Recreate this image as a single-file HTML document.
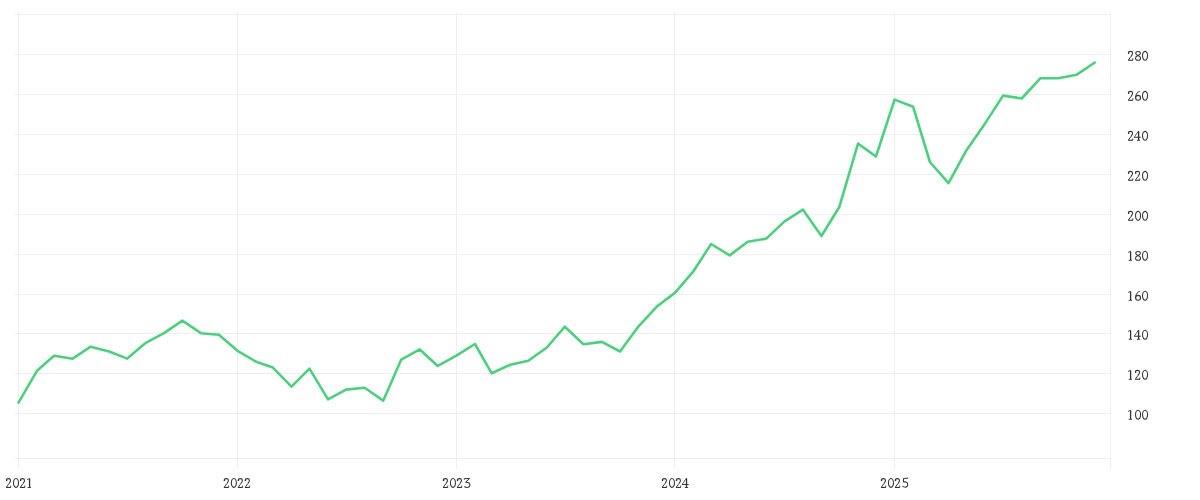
<!DOCTYPE html>
<html><head><meta charset="utf-8"><style>
html,body{margin:0;padding:0;background:#fff;width:1200px;height:500px;overflow:hidden}
svg{display:block;position:absolute;left:0;top:0}
.t{will-change:transform}
</style></head><body>
<svg width="1200" height="500" viewBox="0 0 1200 500">
<rect width="1200" height="500" fill="#fff"/>
<g stroke="#efefef" stroke-width="1" shape-rendering="crispEdges"><line x1="15" y1="14.5" x2="1110" y2="14.5"/><line x1="15" y1="54.5" x2="1110" y2="54.5"/><line x1="15" y1="94.5" x2="1110" y2="94.5"/><line x1="15" y1="134.5" x2="1110" y2="134.5"/><line x1="15" y1="174.5" x2="1110" y2="174.5"/><line x1="15" y1="214.5" x2="1110" y2="214.5"/><line x1="15" y1="254.5" x2="1110" y2="254.5"/><line x1="15" y1="294.5" x2="1110" y2="294.5"/><line x1="15" y1="333.5" x2="1110" y2="333.5"/><line x1="15" y1="373.5" x2="1110" y2="373.5"/><line x1="15" y1="413.5" x2="1110" y2="413.5"/><line x1="15" y1="458.5" x2="1110" y2="458.5"/><line x1="18.5" y1="12" x2="18.5" y2="469"/><line x1="237.5" y1="12" x2="237.5" y2="469"/><line x1="456.5" y1="12" x2="456.5" y2="469"/><line x1="674.5" y1="12" x2="674.5" y2="469"/><line x1="894.5" y1="12" x2="894.5" y2="469"/><line x1="1110.5" y1="12" x2="1110.5" y2="469"/></g>
<path d="M18.50,402.70 L37.28,370.40 L54.07,355.70 L72.66,358.70 L90.64,346.70 L109.22,351.50 L127.21,358.60 L145.79,342.80 L164.38,332.90 L182.36,320.70 L200.95,333.20 L218.93,334.80 L237.52,350.80 L256.10,361.70 L272.89,367.60 L291.47,386.60 L309.46,368.70 L328.04,399.40 L346.03,389.60 L364.61,387.70 L383.20,400.65 L401.18,359.70 L419.77,349.45 L437.75,365.95 L456.34,355.70 L474.92,344.00 L491.71,373.30 L510.29,364.80 L528.28,360.80 L546.86,347.50 L564.84,326.70 L583.43,344.30 L602.01,341.90 L620.00,351.50 L638.58,326.30 L656.57,306.80 L675.15,292.60 L693.74,270.80 L711.12,244.00 L729.71,255.40 L747.69,241.80 L766.28,238.60 L784.26,221.60 L802.85,209.60 L821.43,236.00 L839.42,206.70 L858.00,143.60 L875.99,156.50 L894.57,99.60 L913.15,106.80 L929.94,162.00 L948.52,183.10 L966.51,150.20 L985.09,123.40 L1003.08,95.60 L1021.66,98.50 L1040.25,78.30 L1058.23,78.30 L1076.82,74.70 L1094.80,62.50" fill="none" stroke="#4cd07d" stroke-width="2.6" stroke-linejoin="round" stroke-linecap="round"/>
</svg>
<svg class="t" width="1200" height="500" viewBox="0 0 1200 500"><g fill="none" stroke="#333"><path transform="translate(4.46 488.00)" d="M1.95,-7.6 C1.95,-8.9 2.9,-9.4 4.05,-9.4 C5.35,-9.4 6.05,-8.6 6.05,-7.6 C6.05,-6.5 5.35,-5.5 4.6,-4.5" stroke-width="1.1"/><path transform="translate(4.46 488.00)" d="M4.6,-4.5 L1.95,-0.8" stroke-width="0.95"/><path transform="translate(4.46 488.00)" d="M1.6,-0.55 L6.4,-0.55" stroke-width="1.1"/><path transform="translate(4.46 488.00)" d="M6.3,-0.6 L6.3,-2.4" stroke-width="0.9"/><path transform="translate(4.46 488.00)" d="M2.15,-7.45 m-0.75,0 a0.75,0.75 0 1,0 1.5,0 a0.75,0.75 0 1,0 -1.5,0 Z" fill="#333" stroke="none"/><path transform="translate(11.46 488.00)" d="M4.55,-9.45 C6.0,-9.45 7.05,-7.6 7.05,-5.05 C7.05,-2.5 6.0,-0.65 4.55,-0.65 C3.1,-0.65 2.05,-2.5 2.05,-5.05 C2.05,-7.6 3.1,-9.45 4.55,-9.45 Z" stroke-width="1.05"/><path transform="translate(18.46 488.00)" d="M1.95,-7.6 C1.95,-8.9 2.9,-9.4 4.05,-9.4 C5.35,-9.4 6.05,-8.6 6.05,-7.6 C6.05,-6.5 5.35,-5.5 4.6,-4.5" stroke-width="1.1"/><path transform="translate(18.46 488.00)" d="M4.6,-4.5 L1.95,-0.8" stroke-width="0.95"/><path transform="translate(18.46 488.00)" d="M1.6,-0.55 L6.4,-0.55" stroke-width="1.1"/><path transform="translate(18.46 488.00)" d="M6.3,-0.6 L6.3,-2.4" stroke-width="0.9"/><path transform="translate(18.46 488.00)" d="M2.15,-7.45 m-0.75,0 a0.75,0.75 0 1,0 1.5,0 a0.75,0.75 0 1,0 -1.5,0 Z" fill="#333" stroke="none"/><path transform="translate(25.46 488.00)" d="M4.1,-9.45 L4.1,-0.6" stroke-width="1.3"/><path transform="translate(25.46 488.00)" d="M1.6,-8.4 L4.15,-9.5" stroke-width="0.9"/><path transform="translate(25.46 488.00)" d="M2.2,-0.5 L5.6,-0.5" stroke-width="0.9"/><path transform="translate(222.30 488.00)" d="M1.95,-7.6 C1.95,-8.9 2.9,-9.4 4.05,-9.4 C5.35,-9.4 6.05,-8.6 6.05,-7.6 C6.05,-6.5 5.35,-5.5 4.6,-4.5" stroke-width="1.1"/><path transform="translate(222.30 488.00)" d="M4.6,-4.5 L1.95,-0.8" stroke-width="0.95"/><path transform="translate(222.30 488.00)" d="M1.6,-0.55 L6.4,-0.55" stroke-width="1.1"/><path transform="translate(222.30 488.00)" d="M6.3,-0.6 L6.3,-2.4" stroke-width="0.9"/><path transform="translate(222.30 488.00)" d="M2.15,-7.45 m-0.75,0 a0.75,0.75 0 1,0 1.5,0 a0.75,0.75 0 1,0 -1.5,0 Z" fill="#333" stroke="none"/><path transform="translate(229.30 488.00)" d="M4.55,-9.45 C6.0,-9.45 7.05,-7.6 7.05,-5.05 C7.05,-2.5 6.0,-0.65 4.55,-0.65 C3.1,-0.65 2.05,-2.5 2.05,-5.05 C2.05,-7.6 3.1,-9.45 4.55,-9.45 Z" stroke-width="1.05"/><path transform="translate(236.30 488.00)" d="M1.95,-7.6 C1.95,-8.9 2.9,-9.4 4.05,-9.4 C5.35,-9.4 6.05,-8.6 6.05,-7.6 C6.05,-6.5 5.35,-5.5 4.6,-4.5" stroke-width="1.1"/><path transform="translate(236.30 488.00)" d="M4.6,-4.5 L1.95,-0.8" stroke-width="0.95"/><path transform="translate(236.30 488.00)" d="M1.6,-0.55 L6.4,-0.55" stroke-width="1.1"/><path transform="translate(236.30 488.00)" d="M6.3,-0.6 L6.3,-2.4" stroke-width="0.9"/><path transform="translate(236.30 488.00)" d="M2.15,-7.45 m-0.75,0 a0.75,0.75 0 1,0 1.5,0 a0.75,0.75 0 1,0 -1.5,0 Z" fill="#333" stroke="none"/><path transform="translate(243.30 488.00)" d="M1.95,-7.6 C1.95,-8.9 2.9,-9.4 4.05,-9.4 C5.35,-9.4 6.05,-8.6 6.05,-7.6 C6.05,-6.5 5.35,-5.5 4.6,-4.5" stroke-width="1.1"/><path transform="translate(243.30 488.00)" d="M4.6,-4.5 L1.95,-0.8" stroke-width="0.95"/><path transform="translate(243.30 488.00)" d="M1.6,-0.55 L6.4,-0.55" stroke-width="1.1"/><path transform="translate(243.30 488.00)" d="M6.3,-0.6 L6.3,-2.4" stroke-width="0.9"/><path transform="translate(243.30 488.00)" d="M2.15,-7.45 m-0.75,0 a0.75,0.75 0 1,0 1.5,0 a0.75,0.75 0 1,0 -1.5,0 Z" fill="#333" stroke="none"/><path transform="translate(441.40 488.00)" d="M1.95,-7.6 C1.95,-8.9 2.9,-9.4 4.05,-9.4 C5.35,-9.4 6.05,-8.6 6.05,-7.6 C6.05,-6.5 5.35,-5.5 4.6,-4.5" stroke-width="1.1"/><path transform="translate(441.40 488.00)" d="M4.6,-4.5 L1.95,-0.8" stroke-width="0.95"/><path transform="translate(441.40 488.00)" d="M1.6,-0.55 L6.4,-0.55" stroke-width="1.1"/><path transform="translate(441.40 488.00)" d="M6.3,-0.6 L6.3,-2.4" stroke-width="0.9"/><path transform="translate(441.40 488.00)" d="M2.15,-7.45 m-0.75,0 a0.75,0.75 0 1,0 1.5,0 a0.75,0.75 0 1,0 -1.5,0 Z" fill="#333" stroke="none"/><path transform="translate(448.40 488.00)" d="M4.55,-9.45 C6.0,-9.45 7.05,-7.6 7.05,-5.05 C7.05,-2.5 6.0,-0.65 4.55,-0.65 C3.1,-0.65 2.05,-2.5 2.05,-5.05 C2.05,-7.6 3.1,-9.45 4.55,-9.45 Z" stroke-width="1.05"/><path transform="translate(455.40 488.00)" d="M1.95,-7.6 C1.95,-8.9 2.9,-9.4 4.05,-9.4 C5.35,-9.4 6.05,-8.6 6.05,-7.6 C6.05,-6.5 5.35,-5.5 4.6,-4.5" stroke-width="1.1"/><path transform="translate(455.40 488.00)" d="M4.6,-4.5 L1.95,-0.8" stroke-width="0.95"/><path transform="translate(455.40 488.00)" d="M1.6,-0.55 L6.4,-0.55" stroke-width="1.1"/><path transform="translate(455.40 488.00)" d="M6.3,-0.6 L6.3,-2.4" stroke-width="0.9"/><path transform="translate(455.40 488.00)" d="M2.15,-7.45 m-0.75,0 a0.75,0.75 0 1,0 1.5,0 a0.75,0.75 0 1,0 -1.5,0 Z" fill="#333" stroke="none"/><path transform="translate(462.40 488.00)" d="M1.9,-8.3 L1.9,-9.4 L7.2,-9.45 L3.1,-5.7" stroke-width="1.0"/><path transform="translate(462.40 488.00)" d="M3.1,-5.7 C5.5,-5.9 7.5,-5.1 7.5,-3.0 C7.5,-1.2 6.2,-0.5 4.7,-0.5 C3.5,-0.5 2.5,-0.95 1.9,-1.7" stroke-width="1.05"/><path transform="translate(660.40 488.00)" d="M1.95,-7.6 C1.95,-8.9 2.9,-9.4 4.05,-9.4 C5.35,-9.4 6.05,-8.6 6.05,-7.6 C6.05,-6.5 5.35,-5.5 4.6,-4.5" stroke-width="1.1"/><path transform="translate(660.40 488.00)" d="M4.6,-4.5 L1.95,-0.8" stroke-width="0.95"/><path transform="translate(660.40 488.00)" d="M1.6,-0.55 L6.4,-0.55" stroke-width="1.1"/><path transform="translate(660.40 488.00)" d="M6.3,-0.6 L6.3,-2.4" stroke-width="0.9"/><path transform="translate(660.40 488.00)" d="M2.15,-7.45 m-0.75,0 a0.75,0.75 0 1,0 1.5,0 a0.75,0.75 0 1,0 -1.5,0 Z" fill="#333" stroke="none"/><path transform="translate(667.40 488.00)" d="M4.55,-9.45 C6.0,-9.45 7.05,-7.6 7.05,-5.05 C7.05,-2.5 6.0,-0.65 4.55,-0.65 C3.1,-0.65 2.05,-2.5 2.05,-5.05 C2.05,-7.6 3.1,-9.45 4.55,-9.45 Z" stroke-width="1.05"/><path transform="translate(674.40 488.00)" d="M1.95,-7.6 C1.95,-8.9 2.9,-9.4 4.05,-9.4 C5.35,-9.4 6.05,-8.6 6.05,-7.6 C6.05,-6.5 5.35,-5.5 4.6,-4.5" stroke-width="1.1"/><path transform="translate(674.40 488.00)" d="M4.6,-4.5 L1.95,-0.8" stroke-width="0.95"/><path transform="translate(674.40 488.00)" d="M1.6,-0.55 L6.4,-0.55" stroke-width="1.1"/><path transform="translate(674.40 488.00)" d="M6.3,-0.6 L6.3,-2.4" stroke-width="0.9"/><path transform="translate(674.40 488.00)" d="M2.15,-7.45 m-0.75,0 a0.75,0.75 0 1,0 1.5,0 a0.75,0.75 0 1,0 -1.5,0 Z" fill="#333" stroke="none"/><path transform="translate(681.40 488.00)" d="M5.1,-9.8 L5.1,-0.5" stroke-width="1.3"/><path transform="translate(681.40 488.00)" d="M5.0,-9.7 L0.8,-3.7" stroke-width="0.8"/><path transform="translate(681.40 488.00)" d="M0.6,-3.55 L7.3,-3.55" stroke-width="1.0"/><path transform="translate(681.40 488.00)" d="M3.4,-0.5 L6.7,-0.5" stroke-width="0.9"/><path transform="translate(879.40 488.00)" d="M1.95,-7.6 C1.95,-8.9 2.9,-9.4 4.05,-9.4 C5.35,-9.4 6.05,-8.6 6.05,-7.6 C6.05,-6.5 5.35,-5.5 4.6,-4.5" stroke-width="1.1"/><path transform="translate(879.40 488.00)" d="M4.6,-4.5 L1.95,-0.8" stroke-width="0.95"/><path transform="translate(879.40 488.00)" d="M1.6,-0.55 L6.4,-0.55" stroke-width="1.1"/><path transform="translate(879.40 488.00)" d="M6.3,-0.6 L6.3,-2.4" stroke-width="0.9"/><path transform="translate(879.40 488.00)" d="M2.15,-7.45 m-0.75,0 a0.75,0.75 0 1,0 1.5,0 a0.75,0.75 0 1,0 -1.5,0 Z" fill="#333" stroke="none"/><path transform="translate(886.40 488.00)" d="M4.55,-9.45 C6.0,-9.45 7.05,-7.6 7.05,-5.05 C7.05,-2.5 6.0,-0.65 4.55,-0.65 C3.1,-0.65 2.05,-2.5 2.05,-5.05 C2.05,-7.6 3.1,-9.45 4.55,-9.45 Z" stroke-width="1.05"/><path transform="translate(893.40 488.00)" d="M1.95,-7.6 C1.95,-8.9 2.9,-9.4 4.05,-9.4 C5.35,-9.4 6.05,-8.6 6.05,-7.6 C6.05,-6.5 5.35,-5.5 4.6,-4.5" stroke-width="1.1"/><path transform="translate(893.40 488.00)" d="M4.6,-4.5 L1.95,-0.8" stroke-width="0.95"/><path transform="translate(893.40 488.00)" d="M1.6,-0.55 L6.4,-0.55" stroke-width="1.1"/><path transform="translate(893.40 488.00)" d="M6.3,-0.6 L6.3,-2.4" stroke-width="0.9"/><path transform="translate(893.40 488.00)" d="M2.15,-7.45 m-0.75,0 a0.75,0.75 0 1,0 1.5,0 a0.75,0.75 0 1,0 -1.5,0 Z" fill="#333" stroke="none"/><path transform="translate(900.40 488.00)" d="M3.15,-5.8 L3.15,-9.65 L7.3,-9.7 L7.35,-10.5" stroke-width="1.0"/><path transform="translate(900.40 488.00)" d="M3.15,-5.8 C4.2,-6.3 7.35,-6.4 7.35,-3.4 C7.35,-1.5 6.1,-0.85 4.9,-0.85 C3.6,-0.85 2.6,-1.35 1.95,-2.0" stroke-width="1.05"/><path transform="translate(1126.50 60.80)" d="M1.95,-7.6 C1.95,-8.9 2.9,-9.4 4.05,-9.4 C5.35,-9.4 6.05,-8.6 6.05,-7.6 C6.05,-6.5 5.35,-5.5 4.6,-4.5" stroke-width="1.1"/><path transform="translate(1126.50 60.80)" d="M4.6,-4.5 L1.95,-0.8" stroke-width="0.95"/><path transform="translate(1126.50 60.80)" d="M1.6,-0.55 L6.4,-0.55" stroke-width="1.1"/><path transform="translate(1126.50 60.80)" d="M6.3,-0.6 L6.3,-2.4" stroke-width="0.9"/><path transform="translate(1126.50 60.80)" d="M2.15,-7.45 m-0.75,0 a0.75,0.75 0 1,0 1.5,0 a0.75,0.75 0 1,0 -1.5,0 Z" fill="#333" stroke="none"/><path transform="translate(1133.50 60.80)" d="M4.55,-9.35 C5.95,-9.35 6.9,-8.6 6.9,-7.55 C6.9,-6.4 5.7,-5.75 4.55,-5.25 C3.4,-5.75 2.25,-6.4 2.25,-7.55 C2.25,-8.6 3.15,-9.35 4.55,-9.35 Z" stroke-width="1.05"/><path transform="translate(1133.50 60.80)" d="M4.55,-5.25 C6.0,-4.7 7.05,-3.9 7.05,-2.6 C7.05,-1.3 6.0,-0.55 4.55,-0.55 C3.1,-0.55 2.0,-1.3 2.0,-2.6 C2.0,-3.9 3.1,-4.7 4.55,-5.25 Z" stroke-width="1.05"/><path transform="translate(1140.50 60.80)" d="M4.55,-9.45 C6.0,-9.45 7.05,-7.6 7.05,-5.05 C7.05,-2.5 6.0,-0.65 4.55,-0.65 C3.1,-0.65 2.05,-2.5 2.05,-5.05 C2.05,-7.6 3.1,-9.45 4.55,-9.45 Z" stroke-width="1.05"/><path transform="translate(1126.50 100.80)" d="M1.95,-7.6 C1.95,-8.9 2.9,-9.4 4.05,-9.4 C5.35,-9.4 6.05,-8.6 6.05,-7.6 C6.05,-6.5 5.35,-5.5 4.6,-4.5" stroke-width="1.1"/><path transform="translate(1126.50 100.80)" d="M4.6,-4.5 L1.95,-0.8" stroke-width="0.95"/><path transform="translate(1126.50 100.80)" d="M1.6,-0.55 L6.4,-0.55" stroke-width="1.1"/><path transform="translate(1126.50 100.80)" d="M6.3,-0.6 L6.3,-2.4" stroke-width="0.9"/><path transform="translate(1126.50 100.80)" d="M2.15,-7.45 m-0.75,0 a0.75,0.75 0 1,0 1.5,0 a0.75,0.75 0 1,0 -1.5,0 Z" fill="#333" stroke="none"/><path transform="translate(1133.50 100.80)" d="M6.3,-9.4 C4.1,-8.9 2.1,-7.1 2.1,-3.0" stroke-width="0.95"/><path transform="translate(1133.50 100.80)" d="M4.55,-5.4 C6.0,-5.4 7.0,-4.4 7.0,-2.95 C7.0,-1.5 6.0,-0.5 4.55,-0.5 C3.1,-0.5 2.1,-1.5 2.1,-2.95 C2.1,-4.4 3.1,-5.4 4.55,-5.4 Z" stroke-width="1.1"/><path transform="translate(1140.50 100.80)" d="M4.55,-9.45 C6.0,-9.45 7.05,-7.6 7.05,-5.05 C7.05,-2.5 6.0,-0.65 4.55,-0.65 C3.1,-0.65 2.05,-2.5 2.05,-5.05 C2.05,-7.6 3.1,-9.45 4.55,-9.45 Z" stroke-width="1.05"/><path transform="translate(1126.50 140.80)" d="M1.95,-7.6 C1.95,-8.9 2.9,-9.4 4.05,-9.4 C5.35,-9.4 6.05,-8.6 6.05,-7.6 C6.05,-6.5 5.35,-5.5 4.6,-4.5" stroke-width="1.1"/><path transform="translate(1126.50 140.80)" d="M4.6,-4.5 L1.95,-0.8" stroke-width="0.95"/><path transform="translate(1126.50 140.80)" d="M1.6,-0.55 L6.4,-0.55" stroke-width="1.1"/><path transform="translate(1126.50 140.80)" d="M6.3,-0.6 L6.3,-2.4" stroke-width="0.9"/><path transform="translate(1126.50 140.80)" d="M2.15,-7.45 m-0.75,0 a0.75,0.75 0 1,0 1.5,0 a0.75,0.75 0 1,0 -1.5,0 Z" fill="#333" stroke="none"/><path transform="translate(1133.50 140.80)" d="M5.1,-9.8 L5.1,-0.5" stroke-width="1.3"/><path transform="translate(1133.50 140.80)" d="M5.0,-9.7 L0.8,-3.7" stroke-width="0.8"/><path transform="translate(1133.50 140.80)" d="M0.6,-3.55 L7.3,-3.55" stroke-width="1.0"/><path transform="translate(1133.50 140.80)" d="M3.4,-0.5 L6.7,-0.5" stroke-width="0.9"/><path transform="translate(1140.50 140.80)" d="M4.55,-9.45 C6.0,-9.45 7.05,-7.6 7.05,-5.05 C7.05,-2.5 6.0,-0.65 4.55,-0.65 C3.1,-0.65 2.05,-2.5 2.05,-5.05 C2.05,-7.6 3.1,-9.45 4.55,-9.45 Z" stroke-width="1.05"/><path transform="translate(1126.50 180.80)" d="M1.95,-7.6 C1.95,-8.9 2.9,-9.4 4.05,-9.4 C5.35,-9.4 6.05,-8.6 6.05,-7.6 C6.05,-6.5 5.35,-5.5 4.6,-4.5" stroke-width="1.1"/><path transform="translate(1126.50 180.80)" d="M4.6,-4.5 L1.95,-0.8" stroke-width="0.95"/><path transform="translate(1126.50 180.80)" d="M1.6,-0.55 L6.4,-0.55" stroke-width="1.1"/><path transform="translate(1126.50 180.80)" d="M6.3,-0.6 L6.3,-2.4" stroke-width="0.9"/><path transform="translate(1126.50 180.80)" d="M2.15,-7.45 m-0.75,0 a0.75,0.75 0 1,0 1.5,0 a0.75,0.75 0 1,0 -1.5,0 Z" fill="#333" stroke="none"/><path transform="translate(1133.50 180.80)" d="M1.95,-7.6 C1.95,-8.9 2.9,-9.4 4.05,-9.4 C5.35,-9.4 6.05,-8.6 6.05,-7.6 C6.05,-6.5 5.35,-5.5 4.6,-4.5" stroke-width="1.1"/><path transform="translate(1133.50 180.80)" d="M4.6,-4.5 L1.95,-0.8" stroke-width="0.95"/><path transform="translate(1133.50 180.80)" d="M1.6,-0.55 L6.4,-0.55" stroke-width="1.1"/><path transform="translate(1133.50 180.80)" d="M6.3,-0.6 L6.3,-2.4" stroke-width="0.9"/><path transform="translate(1133.50 180.80)" d="M2.15,-7.45 m-0.75,0 a0.75,0.75 0 1,0 1.5,0 a0.75,0.75 0 1,0 -1.5,0 Z" fill="#333" stroke="none"/><path transform="translate(1140.50 180.80)" d="M4.55,-9.45 C6.0,-9.45 7.05,-7.6 7.05,-5.05 C7.05,-2.5 6.0,-0.65 4.55,-0.65 C3.1,-0.65 2.05,-2.5 2.05,-5.05 C2.05,-7.6 3.1,-9.45 4.55,-9.45 Z" stroke-width="1.05"/><path transform="translate(1126.50 220.80)" d="M1.95,-7.6 C1.95,-8.9 2.9,-9.4 4.05,-9.4 C5.35,-9.4 6.05,-8.6 6.05,-7.6 C6.05,-6.5 5.35,-5.5 4.6,-4.5" stroke-width="1.1"/><path transform="translate(1126.50 220.80)" d="M4.6,-4.5 L1.95,-0.8" stroke-width="0.95"/><path transform="translate(1126.50 220.80)" d="M1.6,-0.55 L6.4,-0.55" stroke-width="1.1"/><path transform="translate(1126.50 220.80)" d="M6.3,-0.6 L6.3,-2.4" stroke-width="0.9"/><path transform="translate(1126.50 220.80)" d="M2.15,-7.45 m-0.75,0 a0.75,0.75 0 1,0 1.5,0 a0.75,0.75 0 1,0 -1.5,0 Z" fill="#333" stroke="none"/><path transform="translate(1133.50 220.80)" d="M4.55,-9.45 C6.0,-9.45 7.05,-7.6 7.05,-5.05 C7.05,-2.5 6.0,-0.65 4.55,-0.65 C3.1,-0.65 2.05,-2.5 2.05,-5.05 C2.05,-7.6 3.1,-9.45 4.55,-9.45 Z" stroke-width="1.05"/><path transform="translate(1140.50 220.80)" d="M4.55,-9.45 C6.0,-9.45 7.05,-7.6 7.05,-5.05 C7.05,-2.5 6.0,-0.65 4.55,-0.65 C3.1,-0.65 2.05,-2.5 2.05,-5.05 C2.05,-7.6 3.1,-9.45 4.55,-9.45 Z" stroke-width="1.05"/><path transform="translate(1126.50 260.80)" d="M4.1,-9.45 L4.1,-0.6" stroke-width="1.3"/><path transform="translate(1126.50 260.80)" d="M1.6,-8.4 L4.15,-9.5" stroke-width="0.9"/><path transform="translate(1126.50 260.80)" d="M2.2,-0.5 L5.6,-0.5" stroke-width="0.9"/><path transform="translate(1133.50 260.80)" d="M4.55,-9.35 C5.95,-9.35 6.9,-8.6 6.9,-7.55 C6.9,-6.4 5.7,-5.75 4.55,-5.25 C3.4,-5.75 2.25,-6.4 2.25,-7.55 C2.25,-8.6 3.15,-9.35 4.55,-9.35 Z" stroke-width="1.05"/><path transform="translate(1133.50 260.80)" d="M4.55,-5.25 C6.0,-4.7 7.05,-3.9 7.05,-2.6 C7.05,-1.3 6.0,-0.55 4.55,-0.55 C3.1,-0.55 2.0,-1.3 2.0,-2.6 C2.0,-3.9 3.1,-4.7 4.55,-5.25 Z" stroke-width="1.05"/><path transform="translate(1140.50 260.80)" d="M4.55,-9.45 C6.0,-9.45 7.05,-7.6 7.05,-5.05 C7.05,-2.5 6.0,-0.65 4.55,-0.65 C3.1,-0.65 2.05,-2.5 2.05,-5.05 C2.05,-7.6 3.1,-9.45 4.55,-9.45 Z" stroke-width="1.05"/><path transform="translate(1126.50 300.80)" d="M4.1,-9.45 L4.1,-0.6" stroke-width="1.3"/><path transform="translate(1126.50 300.80)" d="M1.6,-8.4 L4.15,-9.5" stroke-width="0.9"/><path transform="translate(1126.50 300.80)" d="M2.2,-0.5 L5.6,-0.5" stroke-width="0.9"/><path transform="translate(1133.50 300.80)" d="M6.3,-9.4 C4.1,-8.9 2.1,-7.1 2.1,-3.0" stroke-width="0.95"/><path transform="translate(1133.50 300.80)" d="M4.55,-5.4 C6.0,-5.4 7.0,-4.4 7.0,-2.95 C7.0,-1.5 6.0,-0.5 4.55,-0.5 C3.1,-0.5 2.1,-1.5 2.1,-2.95 C2.1,-4.4 3.1,-5.4 4.55,-5.4 Z" stroke-width="1.1"/><path transform="translate(1140.50 300.80)" d="M4.55,-9.45 C6.0,-9.45 7.05,-7.6 7.05,-5.05 C7.05,-2.5 6.0,-0.65 4.55,-0.65 C3.1,-0.65 2.05,-2.5 2.05,-5.05 C2.05,-7.6 3.1,-9.45 4.55,-9.45 Z" stroke-width="1.05"/><path transform="translate(1126.50 339.80)" d="M4.1,-9.45 L4.1,-0.6" stroke-width="1.3"/><path transform="translate(1126.50 339.80)" d="M1.6,-8.4 L4.15,-9.5" stroke-width="0.9"/><path transform="translate(1126.50 339.80)" d="M2.2,-0.5 L5.6,-0.5" stroke-width="0.9"/><path transform="translate(1133.50 339.80)" d="M5.1,-9.8 L5.1,-0.5" stroke-width="1.3"/><path transform="translate(1133.50 339.80)" d="M5.0,-9.7 L0.8,-3.7" stroke-width="0.8"/><path transform="translate(1133.50 339.80)" d="M0.6,-3.55 L7.3,-3.55" stroke-width="1.0"/><path transform="translate(1133.50 339.80)" d="M3.4,-0.5 L6.7,-0.5" stroke-width="0.9"/><path transform="translate(1140.50 339.80)" d="M4.55,-9.45 C6.0,-9.45 7.05,-7.6 7.05,-5.05 C7.05,-2.5 6.0,-0.65 4.55,-0.65 C3.1,-0.65 2.05,-2.5 2.05,-5.05 C2.05,-7.6 3.1,-9.45 4.55,-9.45 Z" stroke-width="1.05"/><path transform="translate(1126.50 379.80)" d="M4.1,-9.45 L4.1,-0.6" stroke-width="1.3"/><path transform="translate(1126.50 379.80)" d="M1.6,-8.4 L4.15,-9.5" stroke-width="0.9"/><path transform="translate(1126.50 379.80)" d="M2.2,-0.5 L5.6,-0.5" stroke-width="0.9"/><path transform="translate(1133.50 379.80)" d="M1.95,-7.6 C1.95,-8.9 2.9,-9.4 4.05,-9.4 C5.35,-9.4 6.05,-8.6 6.05,-7.6 C6.05,-6.5 5.35,-5.5 4.6,-4.5" stroke-width="1.1"/><path transform="translate(1133.50 379.80)" d="M4.6,-4.5 L1.95,-0.8" stroke-width="0.95"/><path transform="translate(1133.50 379.80)" d="M1.6,-0.55 L6.4,-0.55" stroke-width="1.1"/><path transform="translate(1133.50 379.80)" d="M6.3,-0.6 L6.3,-2.4" stroke-width="0.9"/><path transform="translate(1133.50 379.80)" d="M2.15,-7.45 m-0.75,0 a0.75,0.75 0 1,0 1.5,0 a0.75,0.75 0 1,0 -1.5,0 Z" fill="#333" stroke="none"/><path transform="translate(1140.50 379.80)" d="M4.55,-9.45 C6.0,-9.45 7.05,-7.6 7.05,-5.05 C7.05,-2.5 6.0,-0.65 4.55,-0.65 C3.1,-0.65 2.05,-2.5 2.05,-5.05 C2.05,-7.6 3.1,-9.45 4.55,-9.45 Z" stroke-width="1.05"/><path transform="translate(1126.50 419.80)" d="M4.1,-9.45 L4.1,-0.6" stroke-width="1.3"/><path transform="translate(1126.50 419.80)" d="M1.6,-8.4 L4.15,-9.5" stroke-width="0.9"/><path transform="translate(1126.50 419.80)" d="M2.2,-0.5 L5.6,-0.5" stroke-width="0.9"/><path transform="translate(1133.50 419.80)" d="M4.55,-9.45 C6.0,-9.45 7.05,-7.6 7.05,-5.05 C7.05,-2.5 6.0,-0.65 4.55,-0.65 C3.1,-0.65 2.05,-2.5 2.05,-5.05 C2.05,-7.6 3.1,-9.45 4.55,-9.45 Z" stroke-width="1.05"/><path transform="translate(1140.50 419.80)" d="M4.55,-9.45 C6.0,-9.45 7.05,-7.6 7.05,-5.05 C7.05,-2.5 6.0,-0.65 4.55,-0.65 C3.1,-0.65 2.05,-2.5 2.05,-5.05 C2.05,-7.6 3.1,-9.45 4.55,-9.45 Z" stroke-width="1.05"/></g></svg>
</body></html>
